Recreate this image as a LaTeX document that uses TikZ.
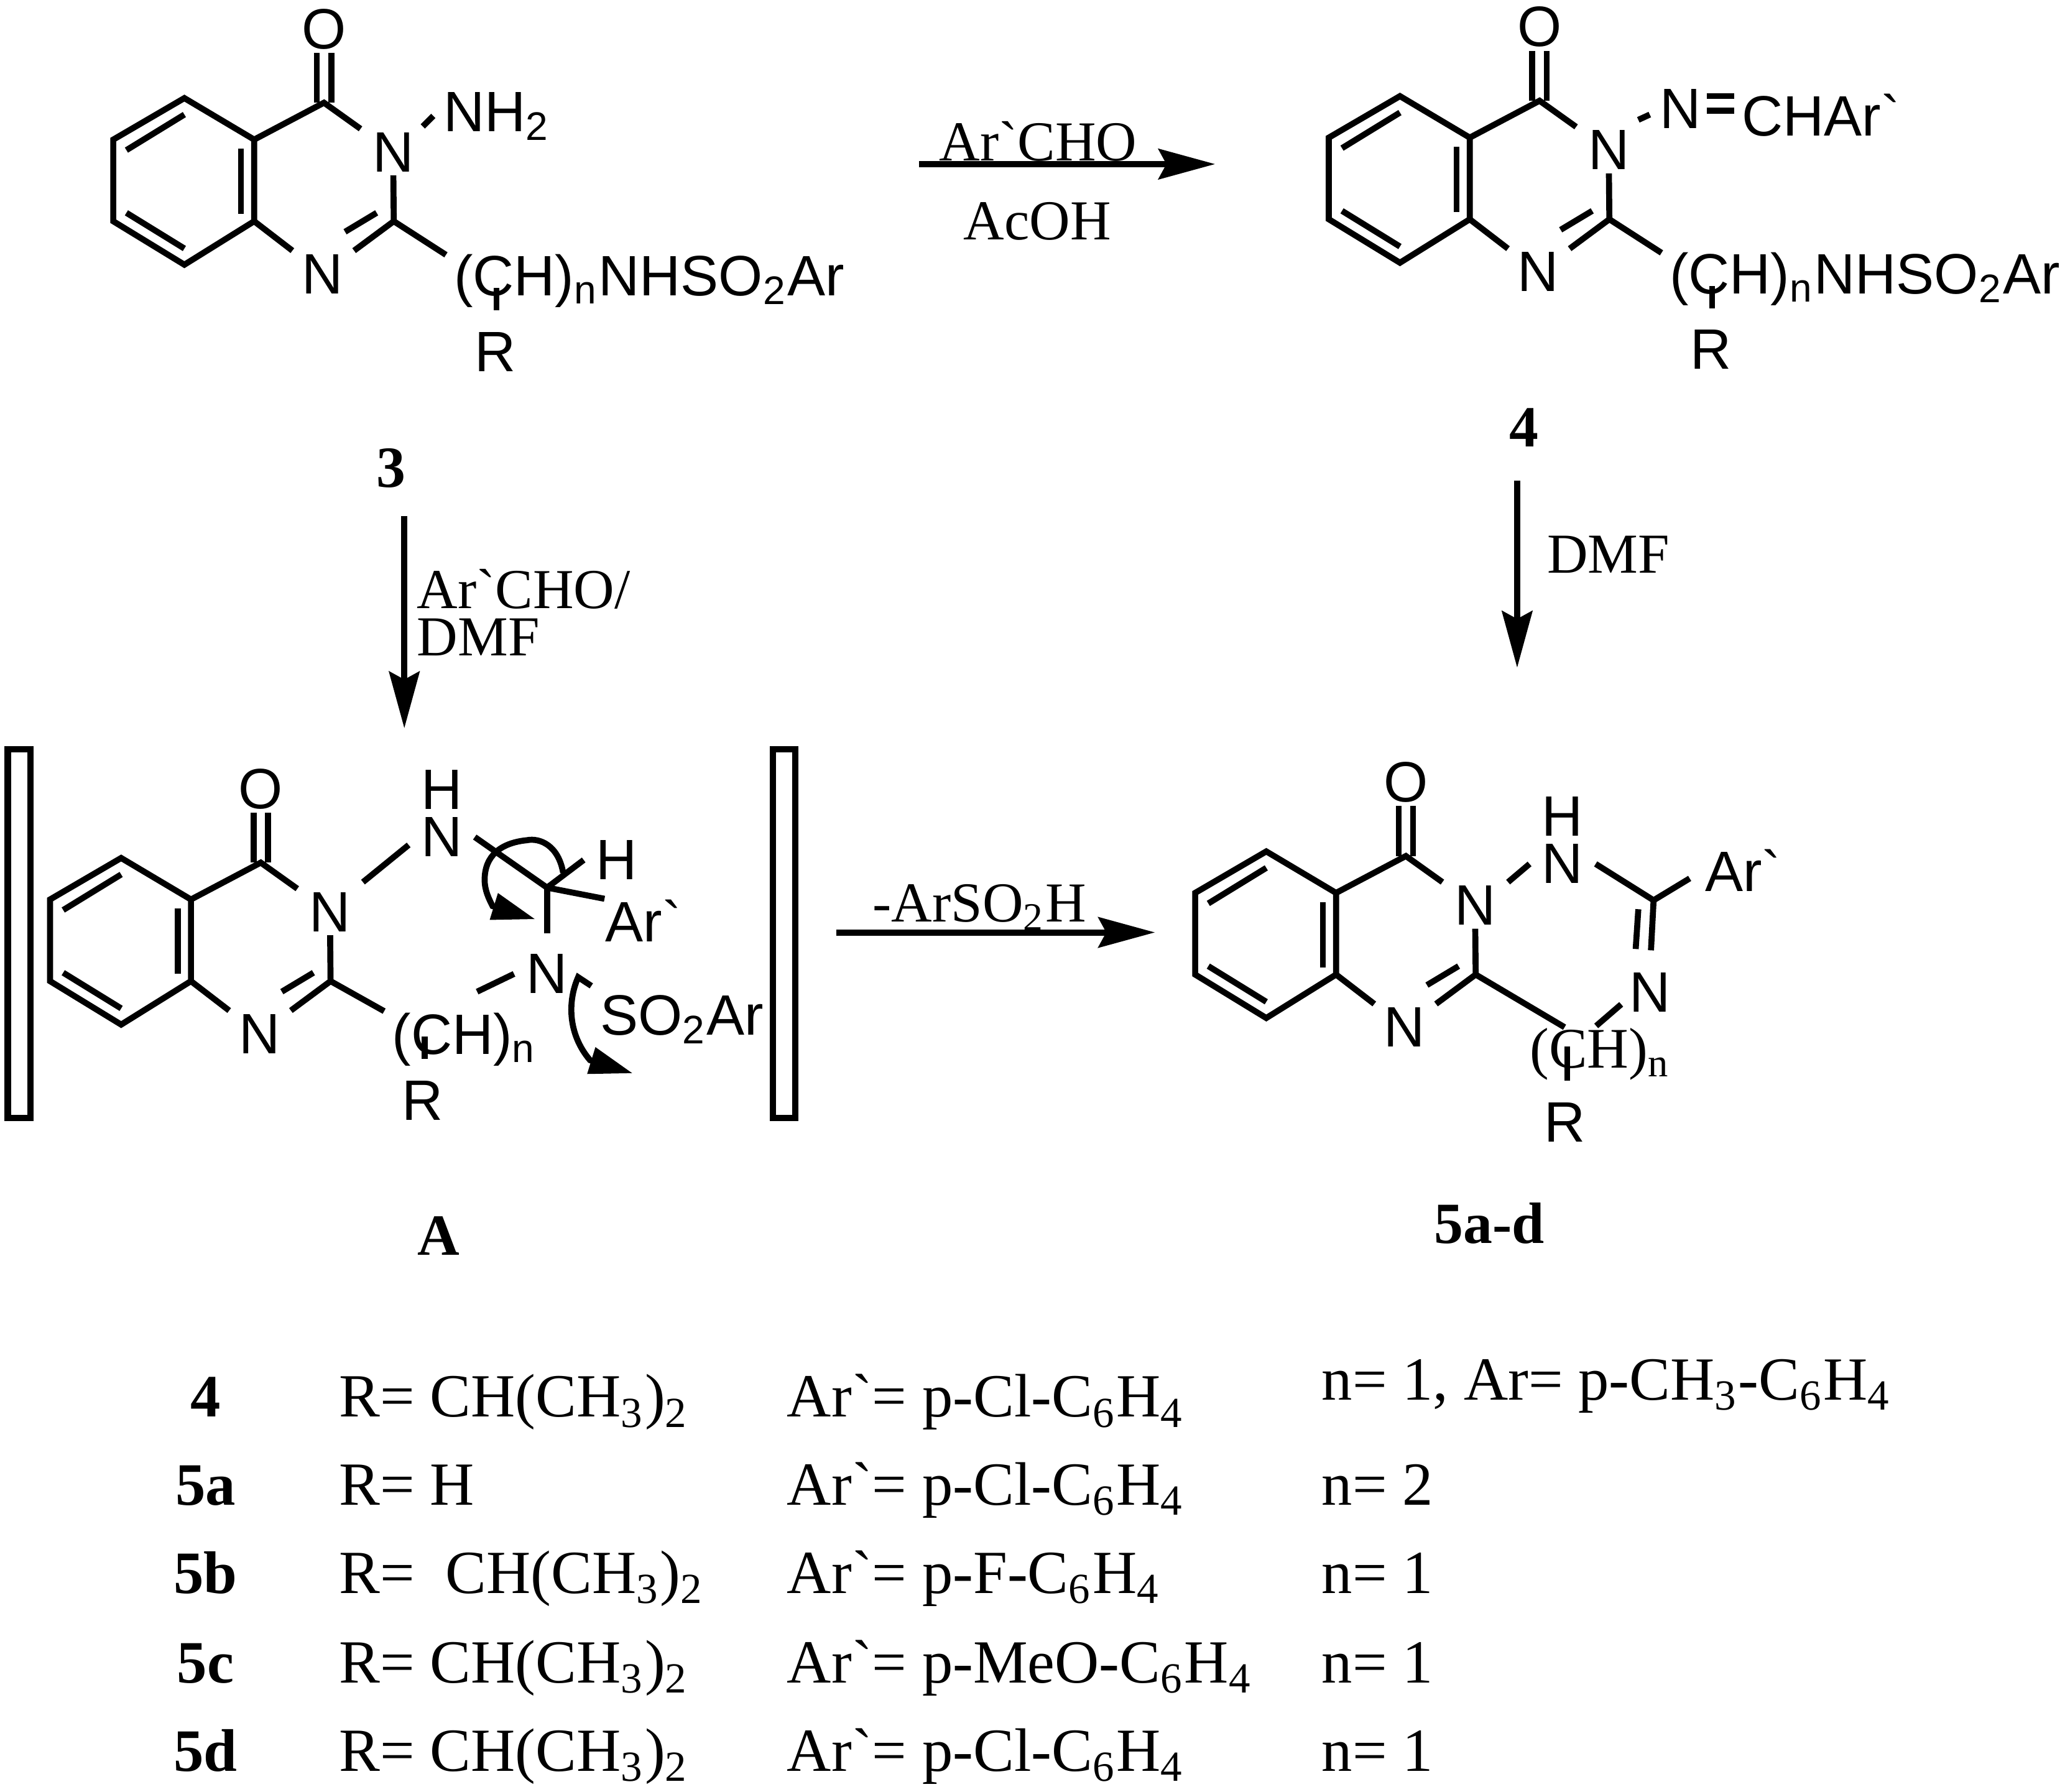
\documentclass[tikz,border=0pt]{standalone}
\usepackage{fontspec}
\setmainfont{Liberation Serif}
\setsansfont{Liberation Sans}
\usetikzlibrary{arrows.meta}
\newcommand{\Arg}{Ar\textasciigrave}
\newcommand{\ipr}{CH(CH\textsubscript{3})\textsubscript{2}}
\newcommand{\phn}{C\textsubscript{6}H\textsubscript{4}}
\tikzset{
	bond/.style={line width=1.3pt},
	rxnarrow/.style={line width=1.35pt,-{Stealth[length=4.3mm,width=2.3mm,inset=0.6mm]}},
	curlyarrow/.style={line width=1.3pt,-{Triangle[length=3.3mm,width=2mm]}},
	atom/.style={font=\sffamily\fontsize{12.3}{15}\selectfont,inner xsep=2.5pt,inner ysep=0.6pt},
	sanstxt/.style={font=\sffamily\fontsize{12.3}{15}\selectfont,anchor=base west,inner sep=0pt},
	reagent/.style={font=\fontsize{12.2}{15}\selectfont,anchor=base west,inner sep=0pt},
	cmpd/.style={font=\bfseries\fontsize{12.6}{15}\selectfont,anchor=base,inner sep=0pt},
	tabletxt/.style={font=\fontsize{13.25}{16}\selectfont,anchor=base west,inner sep=0pt},
	bracketbox/.style={draw,line width=1.4pt,minimum width=0.17cm,minimum height=2.8cm,inner sep=0pt},
	quinaz/.pic={
		\coordinate (-c4a) at (0,0);
		\coordinate (-c5) at (-0.53,0.315);
		\coordinate (-c6) at (-1.07,0);
		\coordinate (-c7) at (-1.07,-0.62);
		\coordinate (-c8) at (-0.53,-0.95);
		\coordinate (-c8a) at (0,-0.62);
		\coordinate (-c4) at (0.53,0.28);
		\coordinate (-c2) at (1.06,-0.62);
		\node[atom] (-o) at (0.53,0.84) {O};
		\node[atom] (-n3) at (1.055,-0.095) {N};
		\node[atom] (-n1) at (0.52,-1.02) {N};
		\draw[bond] (-c4a) -- (-c5) -- (-c6) -- (-c7) -- (-c8) -- (-c8a) -- cycle;
		\draw[bond] (-c4a) -- (-c4) -- (-n3);
		\draw[bond] (-n3) -- (-c2) -- (-n1);
		\draw[bond] (-c8a) -- (-n1);
		\draw[bond] ([xshift=-0.055cm]-c4) -- ([xshift=-0.055cm]-o.south);
		\draw[bond] ([xshift=0.055cm]-c4) -- ([xshift=0.055cm]-o.south);
		\draw[bond] (-0.97,-0.08) -- (-0.53,0.19);
		\draw[bond] (-0.10,-0.07) -- (-0.10,-0.565);
		\draw[bond] (-0.97,-0.556) -- (-0.53,-0.827);
		\draw[bond] (0.69,-0.70) -- (0.93,-0.556);
	},
	tailchain/.pic={
		\coordinate (-c2) at (1.06,-0.62);
		\coordinate (-rt) at (1.84,-1.127);
		\node[sanstxt] (-ch) at (1.51,-1.185) {(CH)\textsubscript{n}NHSO\textsubscript{2}Ar};
		\node[atom] (-r) at (1.83,-1.61) {R};
		\draw[bond] (-c2) -- ++(0.396,-0.255);
		\draw[bond] (-rt) -- ++(0,-0.17);
	}
}
\begin{document}
\begin{tikzpicture}
	\useasboundingbox (0,0) rectangle (15.68,-13.607);

	% compound 3
	\pic (T) at (1.93,-1.06) {quinaz};
	\pic (Tt) at (1.93,-1.06) {tailchain};
	\node[sanstxt] (tnh) at (3.36,-1.00) {NH\textsubscript{2}};
	\coordinate (tnb) at (3.21,-0.96);
	\draw[bond] (tnb) -- ++(0.08,0.08);
	\node[cmpd] (lab3) at (2.97,-3.70) {3};

	% compound 4
	\pic (D) at (11.16,-1.045) {quinaz};
	\pic (Dt) at (11.16,-1.045) {tailchain};
	\node[atom] (dn) at (12.758,-0.826) {N};
	\node[sanstxt] (dch) at (13.22,-1.03) {CH\Arg};
	\coordinate (dnb) at (12.44,-0.91);
	\coordinate (deqa) at (12.96,-0.73);
	\coordinate (deqb) at (12.96,-0.84);
	\draw[bond] (dnb) -- ++(0.087,0.04);
	\draw[bond] (deqa) -- ++(0.206,0);
	\draw[bond] (deqb) -- ++(0.206,0);
	\node[cmpd] (lab4) at (11.57,-3.39) {4};

	% intermediate A
	\node[bracketbox] (brkl) at (0.145,-7.09) {};
	\node[bracketbox] (brkr) at (5.955,-7.09) {};
	\pic (A) at (1.45,-6.83) {quinaz};
	\node[atom] (an) at (3.354,-6.356) {N};
	\node[atom] (ah) at (3.354,-5.995) {H};
	\coordinate (ac) at (4.154,-6.74);
	\node[atom] (ahh) at (4.683,-6.53) {H};
	\node[sanstxt] (aar) at (4.59,-7.15) {\Arg};
	\node[atom] (an2) at (4.154,-7.395) {N};
	\node[sanstxt] (aso) at (4.55,-7.86) {SO\textsubscript{2}Ar};
	\node[sanstxt] (ach) at (2.97,-8.005) {(CH)\textsubscript{n}};
	\node[atom] (ar) at (3.21,-8.355) {R};
	\coordinate (art) at (3.224,-7.87);
	\draw[bond] ([yshift=0.05cm]A-n3.north east) -- ([yshift=-0.06cm]an.west);
	\draw[bond] (an.east) -- (ac) -- (ahh.west);
	\draw[bond] (ac) -- (aar.north west);
	\draw[bond] (ac) -- ++(0,-0.346);
	\draw[bond] (an2.west) -- ++(-0.28,-0.135);
	\draw[bond] (A-c2) -- ++(0.407,-0.228);
	\draw[bond] (art) -- ++(0,-0.17);
	\draw[curlyarrow] (4.276,-6.627) .. controls (4.24,-6.42) and (4.10,-6.36) .. (4.00,-6.38) .. controls (3.80,-6.40) and (3.68,-6.50) .. (3.68,-6.68) .. controls (3.68,-6.76) and (3.71,-6.82) .. (3.74,-6.88) -- (4.065,-6.98);
	\draw[curlyarrow] (4.49,-7.486) -- (4.39,-7.42) .. controls (4.31,-7.60) and (4.31,-7.85) .. (4.48,-8.05) -- (4.805,-8.15);
	\node[cmpd] (labA) at (3.33,-9.53) {A};

	% compound 5
	\pic (V) at (10.145,-6.78) {quinaz};
	\node[atom] (vn) at (11.865,-6.56) {N};
	\node[atom] (vh) at (11.865,-6.20) {H};
	\coordinate (vc) at (12.556,-6.836);
	\node[sanstxt] (var) at (12.94,-6.77) {\Arg};
	\node[atom] (vn2) at (12.53,-7.534) {N};
	\coordinate (vb) at (12.31,-7.626);
	\node[reagent,font=\fontsize{12.4}{15}\selectfont] (vch) at (11.61,-8.11) {(CH)\textsubscript{n}};
	\coordinate (vrt) at (11.90,-7.945);
	\node[atom] (vr) at (11.88,-8.52) {R};
	\draw[bond] (V-n3.north east) -- (vn.west);
	\draw[bond] (vn.east) -- (vc);
	\draw[bond] (vc) -- ++(0.274,0.166);
	\draw[bond] (vc) -- ++(-0.02,-0.38);
	\draw[bond] (12.44,-6.904) -- (12.42,-7.206);
	\draw[bond] (vb) -- ++(-0.19,-0.164);
	\draw[bond] (V-c2) -- ++(0.675,-0.40);
	\draw[bond] (vrt) -- ++(0,-0.263);
	\node[cmpd] (lab5) at (11.31,-9.44) {5a-d};

	% reaction arrows
	\coordinate (ra) at (6.98,-1.246);
	\coordinate (rb) at (9.227,-1.246);
	\coordinate (rc) at (3.07,-3.92);
	\coordinate (rd) at (3.07,-5.53);
	\coordinate (re) at (11.52,-3.65);
	\coordinate (rf) at (11.52,-5.07);
	\coordinate (rg) at (6.35,-7.08);
	\coordinate (rh) at (8.77,-7.08);
	\draw[rxnarrow] (ra) -- (rb);
	\draw[rxnarrow] (rc) -- (rd);
	\draw[rxnarrow] (re) -- (rf);
	\draw[rxnarrow] (rg) -- (rh);
	\node[reagent] (gar) at (7.126,-1.22) {\Arg CHO};
	\node[reagent] (gac) at (7.31,-1.82) {AcOH};
	\node[reagent] (gard) at (3.16,-4.62) {\Arg CHO/};
	\node[reagent] (gdm) at (3.16,-4.98) {DMF};
	\node[reagent] (gdmf) at (11.74,-4.35) {DMF};
	\node[reagent] (gso) at (6.62,-7.00) {-ArSO\textsubscript{2}H};

	% table of substituents
	\node[cmpd,font=\bfseries\fontsize{13}{16}\selectfont] (row1) at (1.56,-10.76) {4};
	\node[tabletxt] (row1r) at (2.57,-10.76) {R= \ipr};
	\node[tabletxt] (row1a) at (5.97,-10.76) {\Arg= p-Cl-\phn};
	\node[tabletxt] (row1n) at (10.03,-10.63) {n= 1, Ar= p-CH\textsubscript{3}-\phn};
	\node[cmpd,font=\bfseries\fontsize{13}{16}\selectfont] (row2) at (1.56,-11.43) {5a};
	\node[tabletxt] (row2r) at (2.57,-11.43) {R= H};
	\node[tabletxt] (row2a) at (5.97,-11.43) {\Arg= p-Cl-\phn};
	\node[tabletxt] (row2n) at (10.03,-11.43) {n= 2};
	\node[cmpd,font=\bfseries\fontsize{13}{16}\selectfont] (row3) at (1.56,-12.10) {5b};
	\node[tabletxt] (row3r) at (2.57,-12.10) {R=\ \ \ipr};
	\node[tabletxt] (row3a) at (5.97,-12.10) {\Arg= p-F-\phn};
	\node[tabletxt] (row3n) at (10.03,-12.10) {n= 1};
	\node[cmpd,font=\bfseries\fontsize{13}{16}\selectfont] (row4) at (1.56,-12.78) {5c};
	\node[tabletxt] (row4r) at (2.57,-12.78) {R= \ipr};
	\node[tabletxt] (row4a) at (5.97,-12.78) {\Arg= p-MeO-\phn};
	\node[tabletxt] (row4n) at (10.03,-12.78) {n= 1};
	\node[cmpd,font=\bfseries\fontsize{13}{16}\selectfont] (row5) at (1.56,-13.45) {5d};
	\node[tabletxt] (row5r) at (2.57,-13.45) {R= \ipr};
	\node[tabletxt] (row5a) at (5.97,-13.45) {\Arg= p-Cl-\phn};
	\node[tabletxt] (row5n) at (10.03,-13.45) {n= 1};
\end{tikzpicture}
\end{document}
